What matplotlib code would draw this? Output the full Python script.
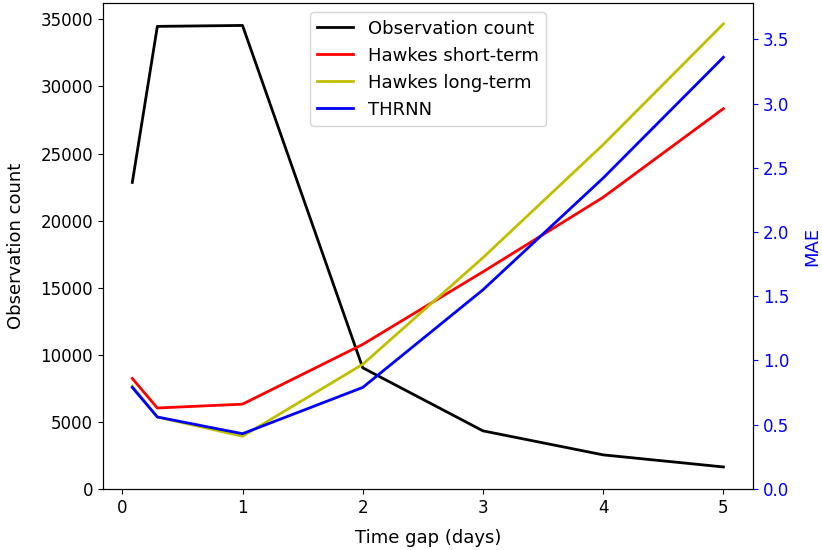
import numpy as np
import matplotlib.pyplot as plt

# time gaps in days
gap = [1/12, 7/24, 1, 2, 3, 4, 5]

obs_count = [22850, 34480, 34550, 9030, 4330, 2540, 1640]

mae_short = [0.86, 0.63, 0.66, 1.125, 1.69, 2.27, 2.96]
mae_long = [0.80, 0.56, 0.41, 0.97, 1.80, 2.68, 3.62]
mae_thrnn = [0.79, 0.56, 0.43, 0.79, 1.55, 2.42, 3.36]

plt.rcParams['font.size'] = 12
plt.rcParams['axes.labelsize'] = 13

fig, ax1 = plt.subplots(figsize=(8.22, 5.5), dpi=100)
fig.subplots_adjust(left=0.125, right=0.916, top=0.994, bottom=0.111)

l0, = ax1.plot(gap, obs_count, color='k', lw=2, label='Observation count')
ax1.set_xlabel('Time gap (days)', labelpad=9)
ax1.set_ylabel('Observation count', labelpad=11)
ax1.set_ylim(0, 36200)

ax2 = ax1.twinx()
l1, = ax2.plot(gap, mae_short, color='r', lw=2, label='Hawkes short-term')
l2, = ax2.plot(gap, mae_long, color='y', lw=2, label='Hawkes long-term')
l3, = ax2.plot(gap, mae_thrnn, color='b', lw=2, label='THRNN')
ax2.set_ylabel('MAE', color='b', labelpad=10)
ax2.tick_params(axis='y', colors='b')
ax2.set_ylim(0, 3.78)

ax1.legend(handles=[l0, l1, l2, l3], loc='upper center', fontsize=13)

plt.savefig('out.png', dpi=100)
